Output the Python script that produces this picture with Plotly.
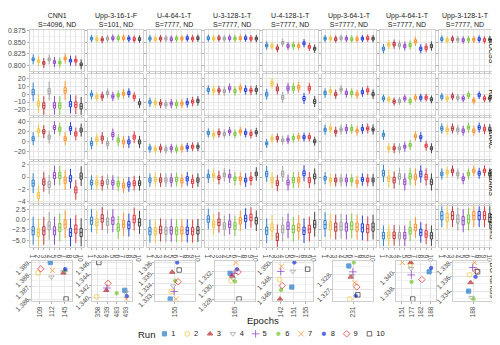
import plotly.graph_objects as go

# ---------------------------------------------------------------- data
models = ["CNN1", "Upp-3-16-1-F", "U-4-64-1-T", "U-3-128-1-T",
          "U-4-128-1-T", "Upp-3-64-1-T", "Upp-4-64-1-T", "Upp-3-128-1-T"]
seeds = ["S=4096, ND", "S=101, ND", "S=7777, ND", "S=7777, ND",
         "S=7777, ND", "S=7777, ND", "S=7777, ND", "S=7777, ND"]
runs = [1, 2, 3, 4, 5, 6, 7, 8, 9, 10]
metrics = ["ROCSS", "RB", "RAAC", "WetAMS", "DryAMS"]

# medians per model (rows) and run (cols)
rocss_med = [
    [0.813, 0.809, 0.805, 0.813, 0.807, 0.806, 0.815, 0.810, 0.810, 0.802],
    [0.858, 0.857, 0.856, 0.858, 0.859, 0.859, 0.859, 0.858, 0.857, 0.857],
    [0.858, 0.857, 0.858, 0.858, 0.857, 0.858, 0.858, 0.859, 0.858, 0.859],
    [0.859, 0.858, 0.859, 0.858, 0.859, 0.858, 0.859, 0.859, 0.858, 0.858],
    [0.843, 0.842, 0.837, 0.849, 0.842, 0.843, 0.842, 0.848, 0.840, 0.836],
    [0.858, 0.858, 0.857, 0.859, 0.858, 0.857, 0.857, 0.858, 0.859, 0.858],
    [0.836, 0.845, 0.846, 0.844, 0.842, 0.844, 0.852, 0.836, 0.838, 0.842],
    [0.857, 0.855, 0.857, 0.856, 0.855, 0.856, 0.856, 0.857, 0.855, 0.856],
]
rb_med = [
    [2.8, -12.2, -14.6, 4.0, -14.3, -14.6, 4.9, -12.7, -13.4, -15.5],
    [-0.5, -3.3, -2.8, 1.6, -2.8, -1.2, 0.7, 1.6, -3.3, -11.5],
    [-10.2, -11.0, -12.0, -13.0, -12.0, -12.7, -12.0, -11.0, -9.4, -8.5],
    [5.6, 4.9, 4.9, 4.0, 7.7, 4.0, 7.7, 5.6, 4.9, 5.6],
    [0.0, 13.8, 6.8, -4.1, 7.7, 7.7, 8.9, -5.4, 7.7, -9.4],
    [1.6, 4.0, 0.0, 6.0, 1.6, 1.6, 0.0, 2.8, 5.0, 0.0],
    [-5.4, -6.6, -9.4, -8.7, -5.4, -8.7, -4.5, -4.5, -4.5, -6.6],
    [-3.3, -5.4, -2.8, -4.5, -5.4, -1.2, -8.2, -1.2, -5.4, -5.4],
]
raac_med = [
    [6.5, 22.5, 20.5, 9.6, 28.8, 25.7, 6.5, 27.0, 16.0, 23.8],
    [-3.0, 5.2, 7.7, -3.0, 14.8, 3.3, 0.0, 0.0, 9.6, 0.0],
    [-12.7, -14.6, -12.7, -14.6, -12.7, -14.6, -12.7, -10.8, -9.6, -9.6],
    [18.0, 14.8, 18.0, 16.0, 21.0, 16.0, 21.0, 18.0, 16.0, 19.2],
    [-3.0, 6.5, 7.7, 3.3, 4.6, 7.7, 9.6, 9.6, 9.6, 1.3],
    [24.4, 27.0, 20.5, 25.0, 26.0, 26.0, 22.5, 26.0, 27.0, 25.0],
    [14.2, -12.7, -12.7, -12.7, -9.6, -6.3, 11.5, 9.6, -7.7, -12.7],
    [27.0, 24.4, 27.0, 24.4, 22.5, 28.8, 22.5, 28.8, 25.7, 25.7],
]
wet_med = [
    [-1.0, -3.0, -0.8, -1.2, 0.25, 0.25, -0.5, -0.27, -2.1, 0.15],
    [-0.9, -0.9, -1.0, -0.8, -0.9, -1.1, -1.4, -1.2, -1.0, -1.0],
    [-0.5, -0.4, -0.5, -0.5, -0.5, -0.4, -0.6, -0.3, -0.7, -0.5],
    [0.15, 0.25, -0.1, 0.35, 0.15, -0.27, -0.27, -0.5, -0.27, 0.5],
    [0.5, -0.5, -1.0, 0.5, -0.9, -0.5, -0.45, 0.6, -0.5, 0.1],
    [-0.2, -0.5, -0.5, -0.5, -0.5, -0.5, -0.8, -0.4, -0.5, -0.5],
    [0.6, -0.27, -0.5, 0.1, -0.8, 0.1, 0.0, 0.5, 0.0, -0.8],
    [0.5, 0.78, 1.0, 0.5, -0.27, 0.5, 1.0, 0.6, 1.0, 0.5],
]
dry_med = [
    [-2.7, -3.1, -2.7, -1.5, -2.7, -1.9, -1.1, -3.1, -2.3, -3.1],
    [-0.25, -0.65, 0.3, -0.5, -0.25, -1.9, -1.1, -1.3, 0.15, -0.65],
    [-2.8, -2.8, -2.5, -2.7, -2.6, -2.7, -2.6, -2.7, -2.8, -2.6],
    [0.15, -1.1, -0.65, -1.5, -1.1, -1.5, -0.25, 0.3, 0.55, -0.25],
    [-2.7, -1.9, -4.2, -2.3, -1.5, -2.3, -1.9, -2.7, -2.3, -1.1],
    [-1.2, -1.5, -1.8, -1.6, -1.8, -1.5, -1.8, -2.0, -2.2, -1.8],
    [-3.9, -3.8, -3.8, -3.9, -3.9, -2.7, -1.9, -3.1, -3.5, -3.9],
    [0.97, 0.55, 1.0, 0.15, -0.25, 0.15, 1.0, 1.0, 1.0, 0.55],
]
# box height (IQR) and whisker half-length per model
rocss_iqr = [0.006, 0.006, 0.006, 0.006, 0.006, 0.006, 0.007, 0.006]
rocss_whisk = [0.011, 0.008, 0.008, 0.008, 0.009, 0.008, 0.010, 0.008]
rb_iqr = [7, 4, 4, 4, 5, 4, 4, 4]
rb_whisk = [12, 6, 6, 6, 7, 6, 5, 5]
raac_iqr = [8, 8, 6, 6, 6, 6, 6, 7]
raac_whisk = [13, 12, 9, 9, 9, 10, 10, 10]
wet_iqr = [1.0, 0.8, 0.7, 0.6, 0.8, 0.6, 0.9, 0.6]
wet_whisk = [1.6, 1.2, 1.1, 1.1, 1.3, 1.0, 1.4, 0.9]
dry_iqr = [2.0, 1.8, 1.8, 1.6, 1.8, 2.0, 1.6, 2.0]
dry_whisk = [3.4, 2.8, 2.8, 2.5, 3.0, 3.0, 2.5, 2.8]

# BG val loss: best epoch and loss per model and run
bg_epoch = [
    [112, 109, 145, 112, 145, 145, 112, 145, 109, 145],
    [493, 358, 439, 493, 439, 483, 493, 493, 439, 358],
    [155, 155, 155, 155, 155, 155, 155, 155, 155, 155],
    [165, 165, 165, 165, 165, 165, 165, 165, 165, 165],
    [151, 142, 142, 151, 142, 142, 142, 151, 142, 155],
    [231, 231, 231, 231, 231, 231, 231, 231, 231, 231],
    [188, 177, 177, 177, 177, 177, 151, 188, 182, 177],
    [188, 188, 188, 188, 188, 188, 188, 188, 188, 188],
]
bg_loss = [
    [1.3890, 1.38814, 1.38815, 1.3878, 1.3883, 1.3883, 1.38835, 1.38845, 1.38848, 1.3860],
    [1.3412, 1.3401, 1.3412, 1.3408, 1.3416, 1.3407, 1.3397, 1.3402, 1.3424, 1.3460],
    [1.3326, 1.3333, 1.3351, 1.3338, 1.3333, 1.3343, 1.3326, 1.3360, 1.3342, 1.3353],
    [1.3318, 1.3307, 1.3314, 1.3310, 1.3318, 1.3306, 1.3334, 1.3324, 1.3320, 1.3280],
    [1.3467, 1.3477, 1.3451, 1.3488, 1.3488, 1.3463, 1.3495, 1.3500, 1.3469, 1.3491],
    [1.32856, 1.32637, 1.32783, 1.3279, 1.32817, 1.32879, 1.32744, 1.32659, 1.32717, 1.32665],
    [1.3401, 1.3410, 1.3413, 1.3405, 1.3397, 1.3388, 1.3413, 1.3406, 1.3391, 1.3366],
    [1.3340, 1.3363, 1.3352, 1.3331, 1.3373, 1.3329, 1.3380, 1.3360, 1.3368, 1.3367],
]
bg_ticks = [
    [1.386, 1.387, 1.388, 1.389],
    [1.340, 1.342, 1.344, 1.346],
    [1.333, 1.334, 1.335, 1.336],
    [1.328, 1.330, 1.332],
    [1.346, 1.348, 1.350],
    [1.327, 1.328],
    [1.338, 1.340],
    [1.334, 1.336, 1.338],
]

run_colors = ["#1f78c8", "#f2c12e", "#b8262b", "#9a9a9a", "#8a3cc4",
              "#72c52a", "#ff8a1c", "#1432d8", "#e0262b", "#333333"]
run_symbols = ["square", "circle-open", "triangle-up", "triangle-down-open",
               "cross-thin-open", "circle", "x-thin-open", "circle",
               "diamond-open", "square-open"]
run_sizes = [4.2, 4.8, 4.8, 4.8, 5.5, 3.4, 5.2, 3.4, 5, 4.5]

# ---------------------------------------------------------------- layout helpers
W, H = 500, 345
FONT = "Liberation Sans, Arial, sans-serif"
TICKC = "#4d4d4d"
GRID = "#e6e6e6"
GRIDMIN = "#f3f3f3"
BORDER = "#cfcfcf"

col_left = [21 + 58.5 * c for c in range(8)]
col_w = 54.5
row_top = [20, 66, 112, 158, 204]
row_h = 42.5
bg_left = [23, 83, 146, 206, 265, 325, 388, 445]
bg_w = 40
bg_top, bg_bot = 261, 303


def px_x(p):
    return p / W


def px_y(p):
    return 1 - p / H


def hexa(h, a):
    h = h.lstrip("#")
    return "rgba(%d,%d,%d,%.2f)" % (int(h[0:2], 16), int(h[2:4], 16), int(h[4:6], 16), a)


meds = [rocss_med, rb_med, raac_med, wet_med, dry_med]
iqrs = [rocss_iqr, rb_iqr, raac_iqr, wet_iqr, dry_iqr]
whisks = [rocss_whisk, rb_whisk, raac_whisk, wet_whisk, dry_whisk]
row_cfg = [
    dict(range=[0.788, 0.8765], dtick=0.025, fmt=".3f"),
    dict(range=[-26.4, 25.8], dtick=10, fmt="d"),
    dict(range=[-33.8, 47.7], dtick=20, fmt="d"),
    dict(range=[-4.19, 2.42], dtick=2, fmt="d"),
    dict(range=[-6.6, 3.3], dtick=2.5, fmt=".1f"),
]

fig = go.Figure()
layout = dict(width=W, height=H, margin=dict(l=0, r=0, t=0, b=0),
              paper_bgcolor="white", plot_bgcolor="white", showlegend=False,
              boxmode="overlay", font=dict(family=FONT, size=7, color=TICKC))


def ax_names(k):
    return ("xaxis" if k == 1 else "xaxis%d" % k,
            "yaxis" if k == 1 else "yaxis%d" % k,
            "x" if k == 1 else "x%d" % k,
            "y" if k == 1 else "y%d" % k)


base_axis = dict(showline=True, mirror=True, linecolor=BORDER, linewidth=1,
                 showgrid=True, gridcolor=GRID, gridwidth=0.6, zeroline=False,
                 ticks="outside", ticklen=2, tickcolor="#b0b0b0",
                 tickfont=dict(size=7, color=TICKC, family=FONT))

# ---------------------------------------------------------------- metric rows
for r in range(5):
    cfg = row_cfg[r]
    for c in range(8):
        k = r * 8 + c + 1
        xn, yn, xr, yr = ax_names(k)
        layout[xn] = dict(base_axis, anchor=yr,
                          domain=[px_x(col_left[c]), px_x(col_left[c] + col_w)],
                          range=[0.4, 10.6], tickmode="array", tickvals=runs,
                          ticktext=[str(v) for v in runs],
                          showticklabels=(r == 4),
                          tickfont=dict(size=6.6, color=TICKC, family=FONT))
        layout[yn] = dict(base_axis, anchor=xr,
                          domain=[px_y(row_top[r] + row_h), px_y(row_top[r])],
                          range=cfg["range"], tick0=0, dtick=cfg["dtick"],
                          tickformat=cfg["fmt"], showticklabels=(c == 0),
                          minor=dict(dtick=cfg["dtick"] / 2, tick0=0, showgrid=True,
                                     gridcolor=GRIDMIN, gridwidth=0.5))
        for i, run in enumerate(runs):
            m = meds[r][c][i]
            q = iqrs[r][c] / 2
            w = whisks[r][c]
            fig.add_trace(go.Box(
                x=[run], q1=[m - q], median=[m], q3=[m + q],
                lowerfence=[m - w], upperfence=[m + w],
                xaxis=xr, yaxis=yr, width=0.42, whiskerwidth=0,
                line=dict(color=run_colors[i], width=0.9),
                fillcolor=hexa(run_colors[i], 0.07),
                boxpoints=False, showlegend=False, hoverinfo="skip"))

# ---------------------------------------------------------------- BG val loss row
for c in range(8):
    k = 5 * 8 + c + 1
    xn, yn, xr, yr = ax_names(k)
    cats = sorted(set(bg_epoch[c]))
    xs = [cats.index(e) + 1 + (run - 5.5) * 0.03 for e, run in zip(bg_epoch[c], runs)]
    lo, hi = min(bg_loss[c]), max(bg_loss[c])
    pad = (hi - lo) * 0.05
    step = bg_ticks[c][1] - bg_ticks[c][0]
    layout[xn] = dict(base_axis, anchor=yr,
                      domain=[px_x(bg_left[c]), px_x(bg_left[c] + bg_w)],
                      range=[0.4, len(cats) + 0.6], tickmode="array",
                      tickvals=list(range(1, len(cats) + 1)),
                      ticktext=[str(e) for e in cats], tickangle=-90,
                      tickfont=dict(size=6.6, color=TICKC, family=FONT))
    layout[yn] = dict(base_axis, anchor=xr,
                      domain=[px_y(bg_bot), px_y(bg_top)],
                      range=[lo - pad, hi + pad], tickmode="array",
                      tickvals=bg_ticks[c], ticktext=["%.3f" % v for v in bg_ticks[c]],
                      tickangle=-45, tickfont=dict(size=6.6, color=TICKC, family=FONT),
                      minor=dict(tickmode="linear", tick0=bg_ticks[c][0], dtick=step / 2,
                                 showgrid=True, gridcolor=GRIDMIN, gridwidth=0.5))
    fig.add_trace(go.Scatter(
        x=xs, y=bg_loss[c], mode="markers", xaxis=xr, yaxis=yr,
        marker=dict(symbol=run_symbols, color=run_colors, size=run_sizes,
                    line=dict(width=1, color=run_colors)),
        showlegend=False, hoverinfo="skip"))

# ---------------------------------------------------------------- manual legend
xn, yn, xr, yr = ax_names(49)
layout[xn] = dict(domain=[px_x(133), px_x(384)], range=[0, 11], visible=False, anchor=yr)
layout[yn] = dict(domain=[px_y(345), px_y(330)], range=[0, 2], visible=False, anchor=xr)
fig.add_trace(go.Scatter(
    x=runs, y=[1] * 10, mode="markers", xaxis=xr, yaxis=yr,
    marker=dict(symbol=run_symbols, color=run_colors, size=run_sizes,
                line=dict(width=1, color=run_colors)),
    showlegend=False, hoverinfo="skip"))
fig.add_trace(go.Scatter(
    x=[v + 0.3 for v in runs], y=[1] * 10, mode="text", text=[str(v) for v in runs],
    textposition="middle right", textfont=dict(size=7.5, color="#1a1a1a", family=FONT),
    xaxis=xr, yaxis=yr, showlegend=False, hoverinfo="skip"))

# ---------------------------------------------------------------- annotations
ann = []
for c in range(8):
    ann.append(dict(x=px_x(col_left[c] + col_w / 2), y=px_y(19.5), xref="paper", yref="paper",
                    xanchor="center", yanchor="bottom", showarrow=False,
                    text="%s<br>%s" % (models[c], seeds[c]),
                    font=dict(size=7, color="#1a1a1a", family=FONT)))
row_mid = [row_top[r] + row_h / 2 for r in range(5)] + [(bg_top + bg_bot) / 2]
for r, lab in enumerate(metrics + ["BG val loss"]):
    ann.append(dict(x=px_x(484), y=px_y(row_mid[r]), xref="paper", yref="paper",
                    xanchor="center", yanchor="middle", showarrow=False, textangle=90,
                    borderpad=0, text=lab, font=dict(size=7, color="#1a1a1a", family=FONT)))
ann.append(dict(x=px_x(255), y=px_y(324), xref="paper", yref="paper",
                xanchor="center", yanchor="middle", showarrow=False,
                text="Epochs", font=dict(size=9.5, color="#1a1a1a", family=FONT)))
ann.append(dict(x=px_x(148), y=px_y(338), xref="paper", yref="paper",
                xanchor="right", yanchor="middle", showarrow=False,
                text="Run", font=dict(size=9.5, color="#1a1a1a", family=FONT)))
layout["annotations"] = ann

fig.update_layout(**layout)
fig.write_html("out.html")
